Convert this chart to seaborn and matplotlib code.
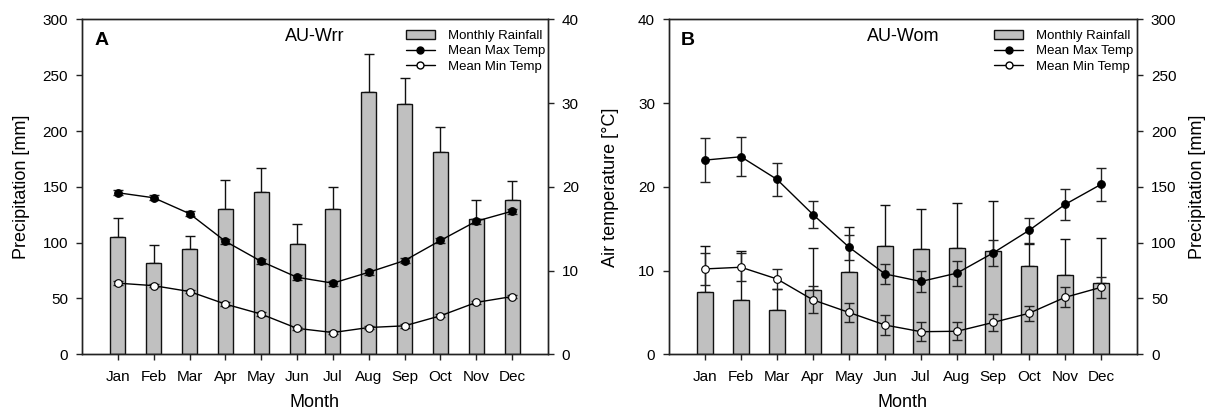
import matplotlib
matplotlib.use("Agg")
import matplotlib.pyplot as plt
from matplotlib.patches import Patch
from matplotlib.lines import Line2D
import seaborn as sns
import numpy as np

# valores
months = ["Jan", "Feb", "Mar", "Apr", "May", "Jun", "Jul", "Aug", "Sep", "Oct", "Nov", "Dec"]

# AU-Wrr
wrr_rain = [105, 82, 94, 130, 145, 99, 130, 235, 224, 181, 121, 138]
wrr_rain_sd = [17, 16, 12, 26, 22, 18, 20, 34, 24, 23, 17, 17]
wrr_tmax = [19.3, 18.7, 16.8, 13.5, 11.1, 9.2, 8.5, 9.8, 11.2, 13.6, 15.9, 17.1]
wrr_tmax_sd = [0.3, 0.3, 0.3, 0.3, 0.3, 0.3, 0.3, 0.3, 0.3, 0.3, 0.3, 0.3]
wrr_tmin = [8.5, 8.2, 7.5, 6.0, 4.8, 3.1, 2.6, 3.2, 3.4, 4.6, 6.2, 6.9]
wrr_tmin_sd = [0.2, 0.2, 0.2, 0.2, 0.2, 0.2, 0.2, 0.2, 0.2, 0.2, 0.2, 0.2]

# AU-Wom
wom_rain = [56, 49, 39.5, 58, 74, 97, 94, 95.5, 93, 79, 71, 64]
wom_rain_sd = [41, 44, 19, 37, 40, 37, 36, 40, 44, 20, 32, 40]
wom_tmax = [23.2, 23.6, 20.9, 16.7, 12.8, 9.6, 8.7, 9.7, 12.1, 14.8, 17.9, 20.3]
wom_tmax_sd = [2.65, 2.35, 2.0, 1.6, 1.5, 1.2, 1.3, 1.5, 1.5, 1.5, 1.9, 1.95]
wom_tmin = [10.2, 10.4, 9.0, 6.5, 5.0, 3.5, 2.7, 2.75, 3.8, 4.9, 6.8, 8.0]
wom_tmin_sd = [1.9, 1.7, 1.2, 1.6, 1.15, 1.15, 1.1, 1.1, 1.05, 0.9, 1.2, 1.25]

BAR_COLOR = "#c0c0c0"
TICK_FS = 11
LABEL_FS = 13

sns.set_style("ticks")
plt.rcParams["font.family"] = ["Liberation Sans", "DejaVu Sans"]
plt.rcParams["axes.edgecolor"] = "#222222"
plt.rcParams["axes.linewidth"] = 1.0
plt.rcParams["text.color"] = "black"
plt.rcParams["axes.labelcolor"] = "black"
plt.rcParams["xtick.color"] = "#222222"
plt.rcParams["ytick.color"] = "#222222"
plt.rcParams["xtick.labelcolor"] = "black"
plt.rcParams["ytick.labelcolor"] = "black"


def draw_rain(ax, rain, rain_sd):
    idx = np.arange(len(months))
    sns.barplot(x=months, y=rain, color=BAR_COLOR, saturation=1, width=0.42,
                edgecolor="#111111", linewidth=1.0, ax=ax, zorder=2)
    ax.errorbar(idx, rain, yerr=[np.zeros(len(rain)), rain_sd], fmt="none",
                ecolor="#111111", elinewidth=1.0, capsize=3.6, capthick=1.0, zorder=1)
    ax.set_ylim(0, 300)
    ax.set_yticks(range(0, 301, 50))


def draw_temp(ax, tmax, tmax_sd, tmin, tmin_sd):
    idx = np.arange(len(months))
    for vals, sd, face in [(tmax, tmax_sd, "black"), (tmin, tmin_sd, "white")]:
        ax.errorbar(idx, vals, yerr=sd, fmt="none", ecolor="#222222",
                    elinewidth=1.0, capsize=3.6, capthick=1.0, zorder=3)
        sns.lineplot(x=idx, y=vals, color="black", linewidth=1.0, marker="o",
                     markersize=5.5, markerfacecolor=face, markeredgecolor="black",
                     markeredgewidth=0.8, ax=ax, zorder=4)
    ax.set_ylim(0, 40)
    ax.set_yticks(range(0, 41, 10))


def legend_on(ax):
    handles = [
        Patch(facecolor=BAR_COLOR, edgecolor="#111111", linewidth=1.0),
        Line2D([], [], color="black", lw=1.0, marker="o", markersize=5,
               markerfacecolor="black"),
        Line2D([], [], color="black", lw=1.0, marker="o", markersize=5,
               markerfacecolor="white"),
    ]
    ax.legend(handles, ["Monthly Rainfall", "Mean Max Temp", "Mean Min Temp"],
              loc="upper left", bbox_to_anchor=(0.695, 0.97), frameon=False,
              fontsize=9.5, handlelength=2.2, handletextpad=1.0,
              labelspacing=0.25, borderpad=0, borderaxespad=0)


def finish(ax, letter, site):
    ax.set_xlim(-1, 12)
    ax.set_xticks(range(len(months)))
    ax.set_xticklabels(months)
    ax.set_xlabel("Month", fontsize=LABEL_FS, labelpad=7.5)
    ax.text(0.026, 0.937, letter, transform=ax.transAxes, fontsize=14,
            fontweight="bold", ha="left", va="center")
    ax.text(0.5, 0.948, site, transform=ax.transAxes, fontsize=13,
            ha="center", va="center")


fig = plt.figure(figsize=(12.11, 4.18), dpi=100)
axA = fig.add_axes([0.0677, 0.1524, 0.3848, 0.801])
axA2 = axA.twinx()
axB = fig.add_axes([0.5524, 0.1524, 0.3865, 0.801])
axB2 = axB.twinx()

# Panel A: lluvia a la izquierda, temperatura a la derecha
draw_rain(axA, wrr_rain, wrr_rain_sd)
draw_temp(axA2, wrr_tmax, wrr_tmax_sd, wrr_tmin, wrr_tmin_sd)
axA.set_ylabel("Precipitation [mm]", fontsize=LABEL_FS, labelpad=9)
axA2.set_ylabel("")
finish(axA, "A", "AU-Wrr")
legend_on(axA2)

# Panel B: temperatura a la izquierda, lluvia a la derecha
draw_rain(axB2, wom_rain, wom_rain_sd)
draw_temp(axB, wom_tmax, wom_tmax_sd, wom_tmin, wom_tmin_sd)
axB.set_zorder(axB2.get_zorder() + 1)
axB.patch.set_visible(False)
axB.set_ylabel("Air temperature [°C]", fontsize=LABEL_FS, labelpad=14)
axB2.set_ylabel("Precipitation [mm]", fontsize=LABEL_FS, labelpad=9)
finish(axB, "B", "AU-Wom")
legend_on(axB)

for a in [axA, axA2, axB, axB2]:
    a.tick_params(axis="both", direction="out", length=4, width=1.0,
                  labelsize=TICK_FS)
    a.tick_params(axis="y", pad=6)
    a.tick_params(axis="x", pad=7)
    a.grid(False)

fig.savefig("out.png", dpi=100)
